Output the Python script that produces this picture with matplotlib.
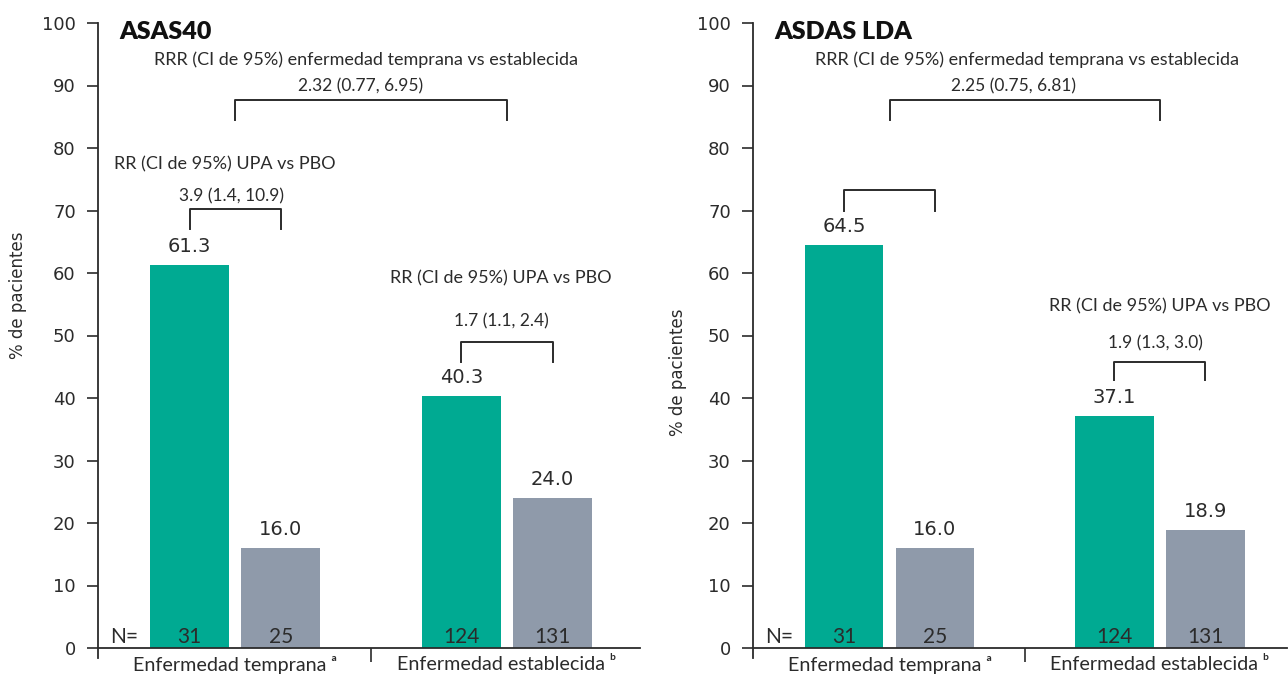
import matplotlib
matplotlib.use("Agg")
import matplotlib.pyplot as plt
import numpy as np

# ---------------- data ----------------
categories = ["Enfermedad temprana", "Enfermedad establecida"]
cat_sup = ["\u1d43", "\u1d47"]
panel_titles = ["ASAS40", "ASDAS LDA"]
upa_values = [[61.3, 40.3], [64.5, 37.1]]
pbo_values = [[16.0, 24.0], [16.0, 18.9]]
upa_n = [31, 124]
pbo_n = [25, 131]
rrr_text = "RRR (CI de 95%) enfermedad temprana vs establecida"
rrr_values = ["2.32 (0.77, 6.95)", "2.25 (0.75, 6.81)"]
rr_label = "RR (CI de 95%) UPA vs PBO"
rr_values = [["3.9 (1.4, 10.9)", "1.7 (1.1, 2.4)"], [None, "1.9 (1.3, 3.0)"]]
yticks = [0, 10, 20, 30, 40, 50, 60, 70, 80, 90, 100]

TEAL = "#00AA92"
GRAY = "#8F9AAA"
TXT = "#2b2b2b"
NARROW = ["Lato", "DejaVu Sans"]

fig = plt.figure(figsize=(12.88, 6.76), dpi=100)
W, H = 1288, 676
ax_specs = [(98, 640), (753, 1287)]
y0px, y100px = 648, 23

# annotation layout per panel (data coordinates)
layout = [
    dict(rrr_xy=(0.48, 94.1), rrrv_xy=(0.46, 89.8), big=(87.7, 84.5),
         rr0=((-0.04, 77.3), (-0.015, 72.2), (70.2, 67.0)),
         rr1=((0.978, 59.2), (0.978, 52.2), (49.0, 45.8)),
         ylab_y=295, ylab_x=18),
    dict(rrr_xy=(0.51, 94.1), rrrv_xy=(0.46, 89.8), big=(87.7, 84.5),
         rr0=(None, None, (73.3, 70.0)),
         rr1=((1.0, 54.7), (0.985, 48.8), (45.8, 42.9)),
         ylab_y=372, ylab_x=678),
]

off = 0.168
bw = 0.29
x = np.arange(len(categories))

for p in range(2):
    l, r = ax_specs[p]
    ax = fig.add_axes([l / W, (H - y0px) / H, (r - l) / W, (y0px - y100px) / H])
    ax.bar(x - off, upa_values[p], width=bw, color=TEAL, zorder=2)
    ax.bar(x + off, pbo_values[p], width=bw, color=GRAY, zorder=2)
    ax.set_ylim(0, 100)
    ax.set_xlim(-0.505, 1.49 if p == 0 else 1.47)
    ax.set_yticks(yticks)
    ax.tick_params(axis="y", labelsize=13, length=8, width=1.2, colors=TXT, pad=8)
    ax.set_xticks([0.5])
    ax.set_xticklabels([""])
    ax.tick_params(axis="x", length=10, width=1.2, direction="out", colors=TXT)
    for s in ["top", "right"]:
        ax.spines[s].set_visible(False)
    ax.spines["left"].set_linewidth(1.3)
    ax.spines["bottom"].set_linewidth(1.3)
    ax.spines["left"].set_color(TXT)
    ax.spines["bottom"].set_color(TXT)
    ax.spines["left"].set_bounds(-1.6, 100)

    # category labels
    for i, c in enumerate(categories):
        ax.text(i, -1.3, c + " " + cat_sup[i], ha="center", va="top",
                fontsize=14.2, family=NARROW, color=TXT, clip_on=False)

    # value labels
    for i in range(2):
        ax.text(i - off, upa_values[p][i] + 3.0, f"{upa_values[p][i]:.1f}",
                ha="center", va="center", fontsize=14, color=TXT)
        ax.text(i + off, pbo_values[p][i] + 3.0, f"{pbo_values[p][i]:.1f}",
                ha="center", va="center", fontsize=14, color=TXT)
        ax.text(i - off, 1.7, str(upa_n[i]), ha="center", va="center",
                fontsize=15, family=NARROW, color=TXT, zorder=3)
        ax.text(i + off, 1.7, str(pbo_n[i]), ha="center", va="center",
                fontsize=15, family=NARROW, color=TXT, zorder=3)
    ax.text(-0.46, 1.7, "N=", ha="left", va="center", fontsize=15,
            family=NARROW, color=TXT)

    # title
    ax.text(0.04, 0.985, panel_titles[p], transform=ax.transAxes, ha="left",
            va="center", fontsize=18, fontweight="heavy", color="#111111",
            family=NARROW)

    L = layout[p]
    ax.text(*L["rrr_xy"], rrr_text, ha="center", va="center", fontsize=13,
            family=NARROW, color=TXT)
    ax.text(*L["rrrv_xy"], rrr_values[p], ha="center", va="center",
            fontsize=12.5, family=NARROW, color=TXT)
    top, bot = L["big"]
    ax.plot([0, 0, 1, 1], [bot, top, top, bot], color=TXT, lw=1.4, clip_on=False)

    for i, key in enumerate(["rr0", "rr1"]):
        lab_xy, val_xy, (bt, bb) = L[key]
        if lab_xy is not None:
            ax.text(*lab_xy, rr_label, ha="center", va="center", fontsize=13,
                    family=NARROW, color=TXT)
        if val_xy is not None and rr_values[p][i] is not None:
            ax.text(*val_xy, rr_values[p][i], ha="center", va="center",
                    fontsize=12.5, family=NARROW, color=TXT)
        ax.plot([i - off, i - off, i + off, i + off], [bb, bt, bt, bb],
                color=TXT, lw=1.4)

    fig.text(L["ylab_x"] / W, 1 - L["ylab_y"] / H, "% de pacientes",
             rotation=90, ha="center", va="center", fontsize=12, color=TXT)

fig.savefig("out.png", dpi=100)
